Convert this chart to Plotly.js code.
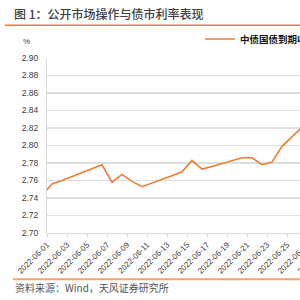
<!DOCTYPE html>
<html>
<head>
<meta charset="utf-8">
<script src="https://cdn.plot.ly/plotly-3.0.1.min.js"></script>
<style>
html,body{margin:0;padding:0;overflow:hidden;width:300px;height:300px;background:#fff;}
#chart{width:400px;height:300px;}
</style>
</head>
<body>
<div id="chart"></div>
<script>
const dates = ['2022-05-31','2022-06-01','2022-06-02','2022-06-06','2022-06-07','2022-06-08','2022-06-09','2022-06-10','2022-06-13','2022-06-14','2022-06-15','2022-06-16','2022-06-17','2022-06-20','2022-06-21','2022-06-22','2022-06-23','2022-06-24','2022-06-27'];
const yields = [2.743,2.756,2.760,2.778,2.758,2.767,2.759,2.753,2.7655,2.770,2.783,2.773,2.776,2.786,2.786,2.778,2.781,2.799,2.832];
const seriesName = '中债国债到期收益率:10年';
const yTicks = [2.70,2.72,2.74,2.76,2.78,2.80,2.82,2.84,2.86,2.88,2.90];
const titleText = '图 1：公开市场操作与债市利率表现';
const sourceText = '资料来源：Wind，天风证券研究所';

const DAY = 86400000;
const W = 400, H = 300, L = 47, R = 63, T = 58, B = 67;
const pw = W - L - R, ph = H - T - B;
const px = v => (v - L) / pw;
const py = v => (H - B - v) / ph;

const trace = {
  x: dates, y: yields, type: 'scatter', mode: 'lines', name: seriesName,
  xperiod: DAY, xperiodalignment: 'middle',
  line: {color: '#ED7D31', width: 1.6}
};

const layout = {
  width: W, height: H,
  margin: {l: L, r: R, t: T, b: B},
  paper_bgcolor: '#fff', plot_bgcolor: '#fff',
  font: {family: '"Noto Sans CJK SC", "Liberation Sans", sans-serif', color: '#404040'},
  title: {text: titleText, x: 14 / W, xanchor: 'left', xref: 'container', y: 1 - 14.5 / H, yanchor: 'middle', yref: 'container',
    font: {size: 12, color: '#404040', family: '"Noto Sans CJK SC", sans-serif', weight: 500}},
  showlegend: true,
  legend: {x: px(200), xanchor: 'left', y: py(39), yanchor: 'middle', bgcolor: 'rgba(0,0,0,0)',
    font: {size: 9.5, color: '#111', family: '"Noto Sans CJK SC", sans-serif', weight: 'bold'}, itemwidth: 30},
  xaxis: {
    type: 'date', range: ['2022-06-01', '2022-06-30'],
    tick0: '2022-06-01', dtick: 2 * DAY, tickformat: '%Y-%m-%d', tickangle: -45,
    tickfont: {size: 8, color: '#404040', family: '"Liberation Sans", Arial, sans-serif'},
    showgrid: false, showline: true, linecolor: '#D9D9D9', linewidth: 1,
    ticks: 'outside', ticklen: 3, tickcolor: '#D9D9D9', zeroline: false, fixedrange: true
  },
  yaxis: {
    range: [2.70, 2.90], tickvals: yTicks, ticktext: yTicks.map(v => v.toFixed(2)),
    tickfont: {size: 8.5, color: '#404040', family: '"Liberation Sans", Arial, sans-serif'},
    showgrid: true, gridcolor: '#DEDEDE', gridwidth: 1.5,
    showline: true, linecolor: '#D9D9D9', linewidth: 1, ticks: '', ticklabelstandoff: 6,
    zeroline: false, fixedrange: true
  },
  annotations: [
    {text: '%', xref: 'paper', yref: 'paper', x: px(26), y: py(41.5), xanchor: 'center', yanchor: 'middle', showarrow: false,
     font: {size: 8, color: '#404040', family: '"Liberation Sans", sans-serif'}},
    {text: sourceText, xref: 'paper', yref: 'paper', x: px(13), y: py(287.5), xanchor: 'left', yanchor: 'middle', showarrow: false,
     font: {size: 10, color: '#555', family: '"Noto Sans CJK SC", sans-serif'}}
  ],
  shapes: [
    {type: 'line', xref: 'paper', yref: 'paper', x0: px(5), x1: px(400), y0: py(25.3), y1: py(25.3), line: {color: '#ED7D31', width: 1.5}},
    {type: 'line', xref: 'paper', yref: 'paper', x0: px(13), x1: px(400), y0: py(279.3), y1: py(279.3), line: {color: '#F4A46E', width: 2}}
  ]
};

Plotly.newPlot('chart', [trace], layout, {staticPlot: true, displayModeBar: false});
</script>
</body>
</html>
